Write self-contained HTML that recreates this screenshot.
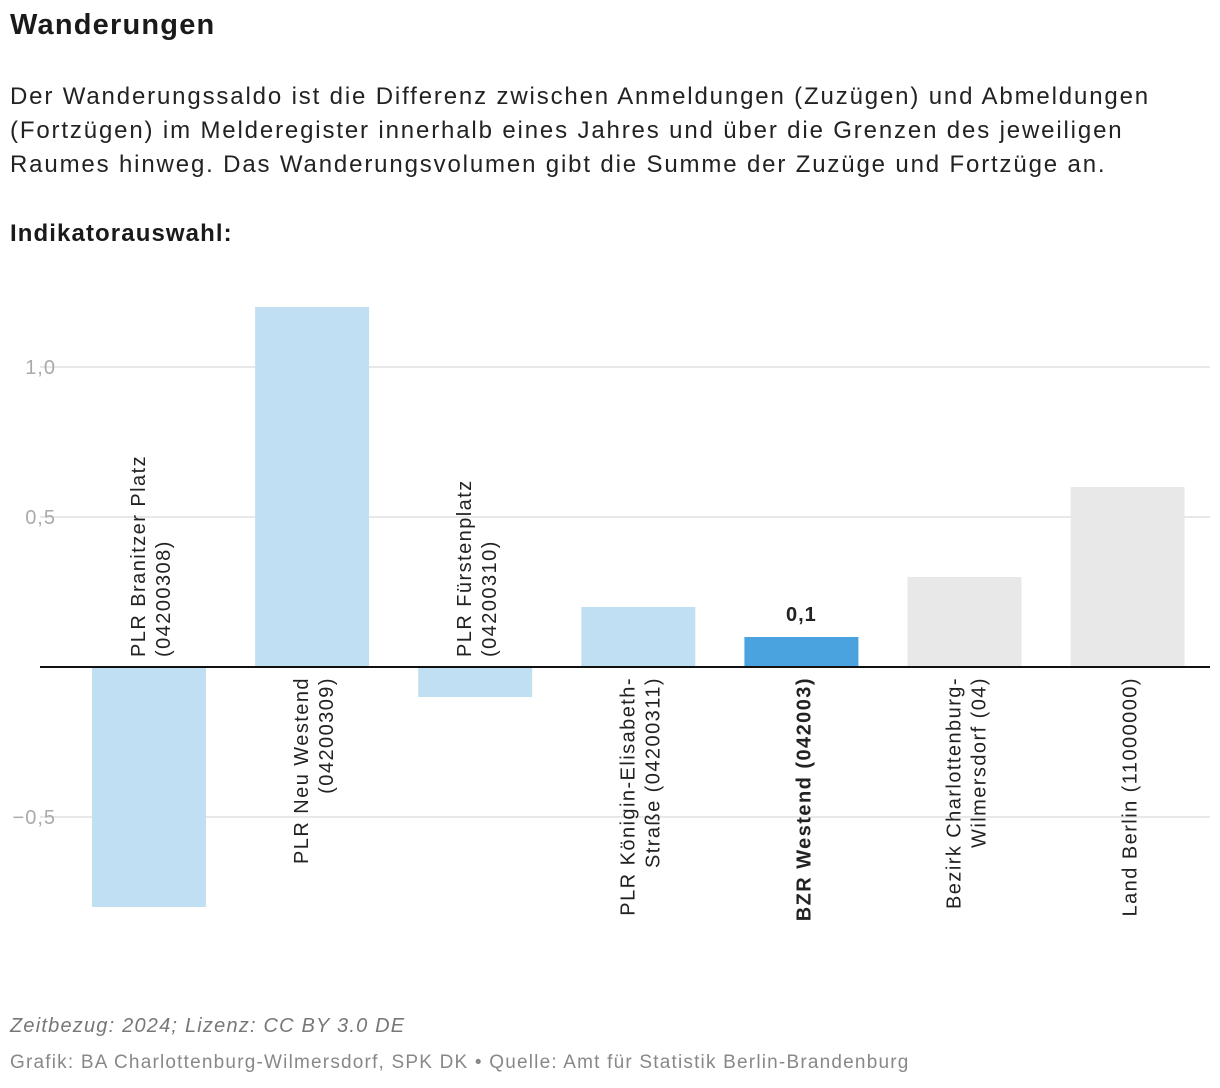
<!DOCTYPE html>
<html><head><meta charset="utf-8">
<style>
body{margin:0;background:#fff;width:1220px;height:1088px;overflow:hidden;font-family:"Liberation Sans",Arial,sans-serif;color:#1a1a1a}
.t{position:absolute;left:10px;margin:0;white-space:nowrap}
</style></head><body>
<h1 class="t" style="top:9px;font-size:29px;font-weight:bold;letter-spacing:1.2px">Wanderungen</h1>
<p class="t" style="top:80px;font-size:24px;line-height:34px;color:#222;letter-spacing:1.85px">Der Wanderungssaldo ist die Differenz zwischen Anmeldungen (Zuzügen) und Abmeldungen<br>(Fortzügen) im Melderegister innerhalb eines Jahres und über die Grenzen des jeweiligen<br>Raumes hinweg. Das Wanderungsvolumen gibt die Summe der Zuzüge und Fortzüge an.</p>
<p class="t" style="top:220px;font-size:24px;font-weight:bold;letter-spacing:1.1px">Indikatorauswahl:</p>
<svg id="chart" width="1220" height="1088" style="position:absolute;left:0;top:0" font-family="Liberation Sans, Arial, sans-serif"></svg>
<p class="t" style="top:1015px;font-size:20px;font-style:italic;color:#777;letter-spacing:1.2px">Zeitbezug: 2024; Lizenz: CC BY 3.0 DE</p>
<p class="t" style="top:1052px;font-size:19px;color:#888;letter-spacing:1.2px">Grafik: BA Charlottenburg-Wilmersdorf, SPK DK • Quelle: Amt für Statistik Berlin-Brandenburg</p>
<script>
const categoriesLine1=["PLR Branitzer Platz","PLR Neu Westend","PLR Fürstenplatz","PLR Königin-Elisabeth-","BZR Westend (042003)","Bezirk Charlottenburg-","Land Berlin (11000000)"];
const categoriesLine2=["(04200308)","(04200309)","(04200310)","Straße (04200311)","","Wilmersdorf (04)",""];
const values=[-0.8,1.2,-0.1,0.2,0.1,0.3,0.6];
const barTypes=["plr","plr","plr","plr","bzr","ref","ref"];
const tickValues=[-0.5,0.5,1.0];
const tickLabels=["−0,5","0,5","1,0"];
const NS="http://www.w3.org/2000/svg";
const svg=document.getElementById('chart');
const y=v=>667-v*300;
const step=163.1, x0=92, bw=114;
const xc=i=>x0+i*step+bw/2;
function mk(t,a){const e=document.createElementNS(NS,t);for(const k in a)e.setAttribute(k,a[k]);svg.appendChild(e);return e;}
tickValues.forEach((v,i)=>{
 const g=mk('line',{x1:40,x2:1210,y1:y(v),y2:y(v),stroke:'#e0e0e0','stroke-width':1.5});
 
 
 const t=mk('text',{x:56,y:y(v)+7,'text-anchor':'end','font-size':20,fill:'#aaa','letter-spacing':1});
 t.textContent=tickLabels[i];
 
 
});
const colors={plr:'#c0dff2',bzr:'#4aa3df',ref:'#e8e8e8'};
values.forEach((v,i)=>{
 const r=mk('rect',{x:x0+i*step,width:bw,y:Math.min(y(v),y(0)),height:Math.abs(y(v)-y(0)),fill:colors[barTypes[i]]});
 
 
 const two=categoriesLine2[i]!=="";
 const neg=v<0;
 const bold=barTypes[i]==='bzr';
 const lines=two?[categoriesLine1[i],categoriesLine2[i]]:[categoriesLine1[i]];
 lines.forEach((s,j)=>{
  const off=two?(j===0?-4:21):9;
  const bx=xc(i)+off;
  const by=neg?657:677;
  const t=mk('text',{x:0,y:0,transform:`translate(${bx},${by}) rotate(-90)`,'text-anchor':neg?'start':'end','font-size':20,'letter-spacing':1.45,fill:'#222','font-weight':bold?'bold':'normal'});
  t.textContent=s;
  
  
 });
 if(bold){
  const t=mk('text',{x:xc(i),y:y(v)-16,'text-anchor':'middle','font-size':20,'font-weight':'bold',fill:'#222','letter-spacing':1});
  t.textContent=String(v).replace('.',',');
  
  
 }
});
const z=mk('line',{x1:40,x2:1210,y1:y(0),y2:y(0),stroke:'#111','stroke-width':2});


</script>
</body></html>
